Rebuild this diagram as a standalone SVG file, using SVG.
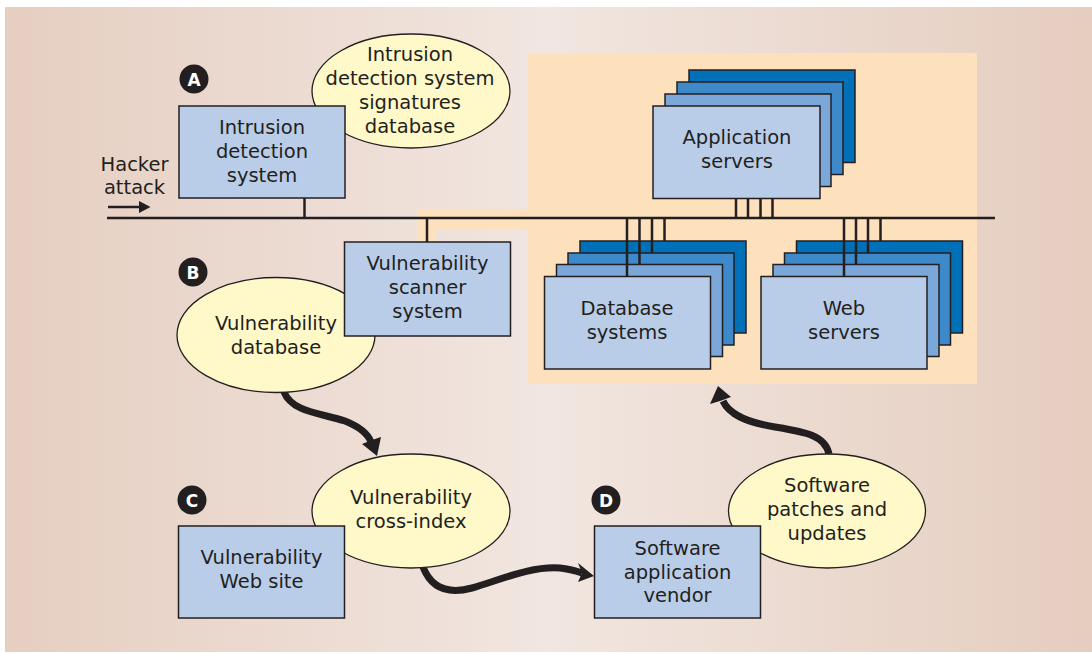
<svg xmlns="http://www.w3.org/2000/svg" width="1092" height="654" viewBox="0 0 1092 654">
<defs>
<linearGradient id="bg" x1="0" y1="0" x2="1" y2="0">
<stop offset="0" stop-color="#e6cec1"/>
<stop offset="0.5" stop-color="#f1e6e0"/>
<stop offset="1" stop-color="#e5cdbf"/>
</linearGradient>
<style>
.box{fill:#b9cde9;stroke:#231f20;stroke-width:1.5}
.ell{fill:#fff9c9;stroke:#231f20;stroke-width:1.3}
.l2{fill:#7ba7d9;stroke:#231f20;stroke-width:1.5}
.l3{fill:#3d89c9;stroke:#231f20;stroke-width:1.5}
.l4{fill:#0070b9;stroke:#231f20;stroke-width:1.5}
.t{font-family:"DejaVu Sans",sans-serif;font-size:19.5px;fill:#231f20;text-anchor:middle}
.wire{stroke:#231f20;stroke-width:2.5;fill:none}
.flow{stroke:#231f20;stroke-width:7;fill:none;stroke-linecap:butt}
.head{fill:#231f20}
.badge{fill:#231f20}
.bl{font-family:"DejaVu Sans",sans-serif;font-size:17px;font-weight:bold;fill:#ffffff;text-anchor:middle}
</style>
</defs>
<rect x="0" y="0" width="1092" height="654" fill="#ffffff"/>
<rect x="5" y="7" width="1087" height="645" fill="url(#bg)"/>
<polygon points="417,209 528,209 528,53 977,53 977,384 528,384 528,229 436,229 436,242 417,242" fill="#fde0bc"/>

<g id="connectors">
<line class="wire" x1="107" y1="218" x2="995" y2="218"/>
<line class="wire" x1="304.5" y1="198" x2="304.5" y2="218"/>
<line class="wire" x1="427" y1="218" x2="427" y2="242"/>
<line class="wire" x1="736" y1="198" x2="736" y2="218"/>
<line class="wire" x1="748" y1="198" x2="748" y2="218"/>
<line class="wire" x1="760.5" y1="198" x2="760.5" y2="218"/>
<line class="wire" x1="772.5" y1="198" x2="772.5" y2="218"/>
<line x1="108" y1="207" x2="140" y2="207" stroke="#231f20" stroke-width="2.5"/>
<polygon class="head" points="150.5,207 139,201 139,213"/>
<path class="flow" d="M284 392 C292 412 320 413 345 421 C360 427 368 434 371 442"/>
<polygon class="head" points="377,456 362,444 372,440 381,437"/>
<path class="flow" d="M423 567 C432 590 450 594 472 588 C500 580 530 566 560 568 C570 569 576 571 582 573"/>
<polygon class="head" points="594,576 578,563 582,573 578,582"/>
<path class="flow" d="M829 454 C825 435 805 432 775 427 C745 422 729 414 723 401"/>
<polygon class="head" points="718,386 710,404 720,401 731,397"/>
</g>

<g id="badge-a"><circle class="badge" cx="194" cy="79" r="14.5"/><text class="bl" x="194" y="85.5">A</text></g>
<g id="badge-b"><circle class="badge" cx="193" cy="272" r="14.5"/><text class="bl" x="193" y="278.5">B</text></g>
<g id="badge-c"><circle class="badge" cx="192" cy="500" r="14.5"/><text class="bl" x="192" y="506.5">C</text></g>
<g id="badge-d"><circle class="badge" cx="606" cy="500" r="14.5"/><text class="bl" x="606" y="506.5">D</text></g>

<g id="hacker-attack">
<text class="t" x="134.5" y="170.5">Hacker</text>
<text class="t" x="134.5" y="194">attack</text>
</g>

<g id="ids-signatures">
<ellipse class="ell" cx="411" cy="91" rx="99" ry="57"/>
<text class="t" x="410" y="61">Intrusion</text>
<text class="t" x="410" y="85">detection system</text>
<text class="t" x="410" y="109">signatures</text>
<text class="t" x="410" y="133">database</text>
</g>
<g id="ids">
<rect class="box" x="179" y="106" width="166" height="92"/>
<text class="t" x="262" y="134">Intrusion</text>
<text class="t" x="262" y="158">detection</text>
<text class="t" x="262" y="182">system</text>
</g>

<g id="vuln-database">
<ellipse class="ell" cx="276" cy="335" rx="99" ry="57.5"/>
<text class="t" x="276" y="329.5">Vulnerability</text>
<text class="t" x="276" y="353.5">database</text>
</g>
<g id="vuln-scanner">
<rect class="box" x="344.5" y="242" width="166" height="94"/>
<text class="t" x="427.5" y="270">Vulnerability</text>
<text class="t" x="427.5" y="294">scanner</text>
<text class="t" x="427.5" y="318">system</text>
</g>

<g id="app-servers">
<rect class="l4" x="689" y="70" width="166" height="92.5"/>
<rect class="l3" x="677" y="82" width="166" height="92.5"/>
<rect class="l2" x="665" y="94" width="166" height="92.5"/>
<rect class="box" x="653" y="106" width="167" height="92.5"/>
<text class="t" x="737" y="144">Application</text>
<text class="t" x="737" y="168">servers</text>
</g>

<g id="db-systems">
<rect class="l4" x="580" y="241" width="166" height="92"/>
<rect class="l3" x="568" y="253" width="166" height="92"/>
<rect class="l2" x="556.5" y="264.5" width="166" height="92"/>
<rect class="box" x="544.5" y="276.5" width="166" height="92.5"/>
<line class="wire" x1="627" y1="218" x2="627" y2="276.5"/>
<line class="wire" x1="639.5" y1="218" x2="639.5" y2="264.5"/>
<line class="wire" x1="652" y1="218" x2="652" y2="253"/>
<line class="wire" x1="664.5" y1="218" x2="664.5" y2="241"/>
<text class="t" x="627" y="315">Database</text>
<text class="t" x="627" y="339">systems</text>
</g>

<g id="web-servers">
<rect class="l4" x="796.5" y="241" width="166" height="92"/>
<rect class="l3" x="784.5" y="253" width="166" height="92"/>
<rect class="l2" x="773" y="264.5" width="166" height="92"/>
<rect class="box" x="761" y="276.5" width="166" height="92.5"/>
<line class="wire" x1="844" y1="218" x2="844" y2="276.5"/>
<line class="wire" x1="856" y1="218" x2="856" y2="264.5"/>
<line class="wire" x1="868" y1="218" x2="868" y2="253"/>
<line class="wire" x1="880.5" y1="218" x2="880.5" y2="241"/>
<text class="t" x="844" y="315">Web</text>
<text class="t" x="844" y="339">servers</text>
</g>

<g id="cross-index">
<ellipse class="ell" cx="411" cy="511" rx="99" ry="57"/>
<text class="t" x="411" y="504">Vulnerability</text>
<text class="t" x="411" y="527.5">cross-index</text>
</g>
<g id="vuln-website">
<rect class="box" x="178.5" y="526" width="166" height="92"/>
<text class="t" x="261.5" y="564">Vulnerability</text>
<text class="t" x="261.5" y="588">Web site</text>
</g>

<g id="patches">
<ellipse class="ell" cx="827" cy="511" rx="98.5" ry="57"/>
<text class="t" x="827" y="492">Software</text>
<text class="t" x="827" y="516">patches and</text>
<text class="t" x="827" y="540">updates</text>
</g>
<g id="vendor">
<rect class="box" x="594.5" y="526" width="166" height="92"/>
<text class="t" x="677.5" y="554.5">Software</text>
<text class="t" x="677.5" y="578.5">application</text>
<text class="t" x="677.5" y="602">vendor</text>
</g>
</svg>
